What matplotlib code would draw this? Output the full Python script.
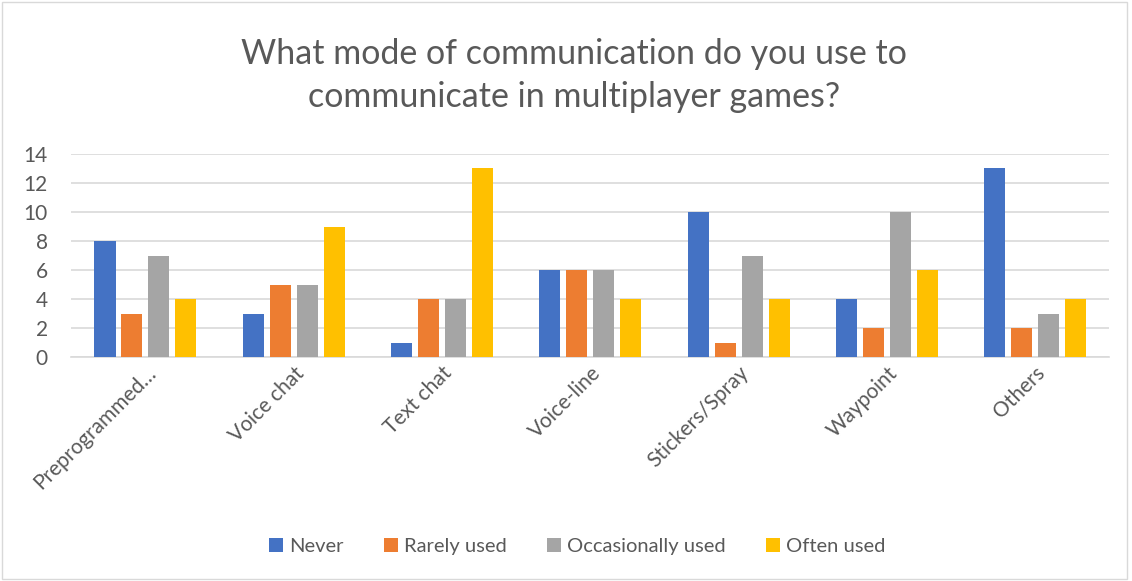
import numpy as np
import matplotlib.pyplot as plt
from matplotlib.patches import Rectangle

categories = ["Preprogrammed…", "Voice chat", "Text chat", "Voice-line",
              "Stickers/Spray", "Waypoint", "Others"]
never = [8, 3, 1, 6, 10, 4, 13]
rarely_used = [3, 5, 4, 6, 1, 2, 2]
occasionally_used = [7, 5, 4, 6, 7, 10, 3]
often_used = [4, 9, 13, 4, 4, 6, 4]

series = [("Never", never, "#4472C4"),
          ("Rarely used", rarely_used, "#ED7D31"),
          ("Occasionally used", occasionally_used, "#A5A5A5"),
          ("Often used", often_used, "#FFC000")]

plt.rcParams["font.family"] = ["Lato", "DejaVu Sans"]
text_color = "#595959"

fig = plt.figure(figsize=(11.32, 5.81), dpi=100)
ax = fig.add_axes([0.063, 0.385, 0.917, 0.35])

x = np.arange(len(categories))
width = 0.142
step = 0.182
for i, (name, vals, color) in enumerate(series):
    offset = (i - 1.5) * step
    ax.bar(x + offset, vals, width, color=color, label=name, zorder=3)

ax.set_xlim(-0.5, len(categories) - 0.5)
ax.set_ylim(0, 14)
ax.set_yticks(range(0, 15, 2))
ax.yaxis.grid(True, color="#D9D9D9", linewidth=1.2, zorder=0)
for side in ["top", "right", "left"]:
    ax.spines[side].set_visible(False)
ax.spines["bottom"].set_color("#D9D9D9")
ax.spines["bottom"].set_linewidth(1.2)
ax.tick_params(axis="both", length=0, labelsize=15, colors=text_color)
ax.tick_params(axis="y", pad=17)
ax.tick_params(axis="x", pad=4)
ax.set_xticks(x)
ax.set_xticklabels(categories, rotation=45, ha="right", va="top",
                   rotation_mode="anchor")

fig.text(0.507, 0.87, "What mode of communication do you use to\ncommunicate in multiplayer games?",
         ha="center", va="center", fontsize=24.5, color=text_color, linespacing=1.45)

fig.legend(loc="center", bbox_to_anchor=(0.51, 0.06), ncol=4, frameon=False,
           fontsize=14.5, labelcolor=text_color, handlelength=0.7, handleheight=0.7,
           handletextpad=0.3, columnspacing=2.0)

# light border around the chart
fig.patches.append(Rectangle((0.002, 0.003), 0.994, 0.994, transform=fig.transFigure,
                             fill=False, edgecolor="#D9D9D9", linewidth=1))

fig.savefig("out.png", dpi=100)
